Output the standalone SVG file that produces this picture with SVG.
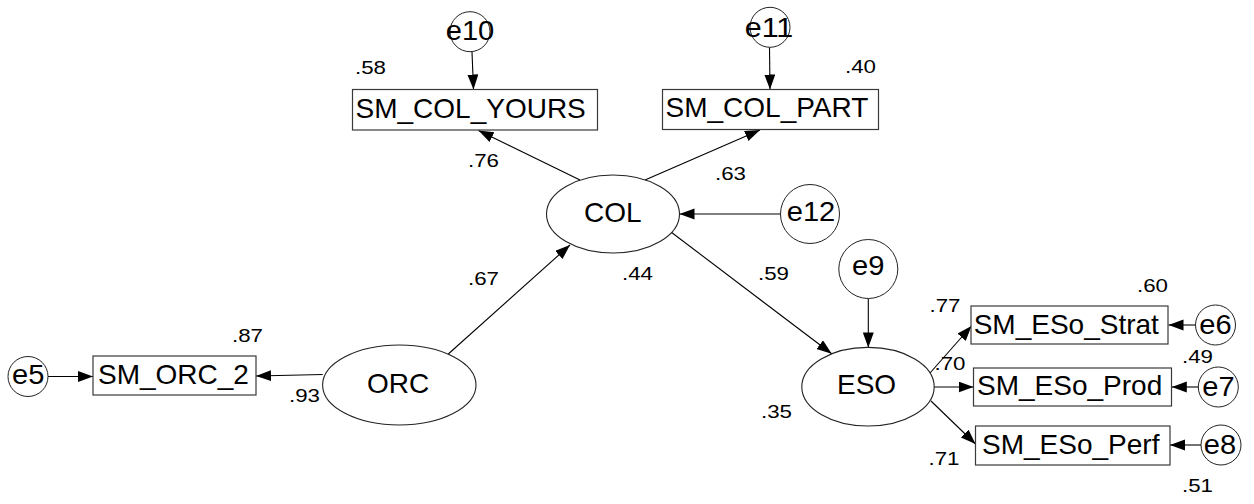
<svg xmlns="http://www.w3.org/2000/svg" width="1254" height="504" viewBox="0 0 1254 504">
  <style>
    .obs { fill: #ffffff; stroke: #3a3a3a; stroke-width: 1.2; }
    .lat { fill: #ffffff; stroke: #222222; stroke-width: 1.1; }
    .err { fill: #ffffff; stroke: #222222; stroke-width: 1; }
    .lbl { font-family: "Liberation Sans", Arial, sans-serif; font-size: 28px; fill: #000000; }
    .elb { font-family: "Liberation Sans", Arial, sans-serif; font-size: 27px; fill: #000000; text-anchor: middle; }
    .num { font-family: "Liberation Sans", Arial, sans-serif; font-size: 19px; fill: #000000; }
    .path { fill: none; stroke: #000000; stroke-width: 1.1; marker-end: url(#head); }
  </style>
  <defs>
    <marker id="head" markerUnits="userSpaceOnUse" markerWidth="16" markerHeight="12" refX="15" refY="5.5" orient="auto">
      <path d="M0,0 L15,5.5 L0,11 Z" fill="#000000"/>
    </marker>
  </defs>
  <rect width="1254" height="504" fill="#ffffff"/>

  <!-- paths and residual arrows -->
  <g id="connectors">
    <path class="path" d="M472,52 L473.5,89.5"/>
    <path class="path" d="M769.5,47.5 L770,89.5"/>
    <path class="path" d="M580,180 L478.5,130.5"/>
    <path class="path" d="M645,180 L760,130"/>
    <path class="path" d="M781,214 L679.5,214"/>
    <path class="path" d="M448.3,354 L570,245"/>
    <path class="path" d="M671,232 L831.7,353.8"/>
    <path class="path" d="M868.3,298.5 L868.3,347.4"/>
    <path class="path" d="M322.7,374.5 L256,376"/>
    <path class="path" d="M48,376.5 L93,376.5"/>
    <path class="path" d="M930,373 L971.5,326"/>
    <path class="path" d="M934,387 L973.5,387"/>
    <path class="path" d="M931,401 L975.5,444"/>
    <path class="path" d="M1195.5,325 L1168.5,325"/>
    <path class="path" d="M1198.3,387 L1171.8,387"/>
    <path class="path" d="M1201,445 L1170,445"/>
  </g>

  <!-- latent variables -->
  <g id="COL">
    <ellipse class="lat" cx="613" cy="214" rx="66.5" ry="39"/>
    <text class="lbl" x="584" y="222">COL</text>
  </g>
  <g id="ORC">
    <ellipse class="lat" cx="399.3" cy="385" rx="76.7" ry="40"/>
    <text class="lbl" x="367" y="393">ORC</text>
  </g>
  <g id="ESO">
    <ellipse class="lat" cx="868" cy="386.7" rx="66.2" ry="39.3"/>
    <text class="lbl" x="837" y="394">ESO</text>
  </g>

  <!-- observed indicators -->
  <g id="SM_COL_YOURS">
    <rect class="obs" x="352.5" y="89.5" width="245" height="40.5"/>
    <text class="lbl" x="355.5" y="117.5">SM_COL_YOURS</text>
  </g>
  <g id="SM_COL_PART">
    <rect class="obs" x="662.5" y="89.5" width="216" height="40"/>
    <text class="lbl" x="665.5" y="117">SM_COL_PART</text>
  </g>
  <g id="SM_ORC_2">
    <rect class="obs" x="93" y="356" width="163" height="39"/>
    <text class="lbl" x="98" y="383.5">SM_ORC_2</text>
  </g>
  <g id="SM_ESo_Strat">
    <rect class="obs" x="971" y="306" width="197" height="38"/>
    <text class="lbl" x="973.7" y="333.5">SM_ESo_Strat</text>
  </g>
  <g id="SM_ESo_Prod">
    <rect class="obs" x="973.5" y="368" width="198" height="38"/>
    <text class="lbl" x="977" y="395">SM_ESo_Prod</text>
  </g>
  <g id="SM_ESo_Perf">
    <rect class="obs" x="975.5" y="426" width="194.5" height="39"/>
    <text class="lbl" x="982" y="453.5">SM_ESo_Perf</text>
  </g>

  <!-- error terms -->
  <g id="e10">
    <circle class="err" cx="470" cy="31.7" r="20"/>
    <text class="elb" x="470" y="39.8" textLength="48.6" lengthAdjust="spacingAndGlyphs">e10</text>
  </g>
  <g id="e11">
    <circle class="err" cx="770" cy="27.3" r="20"/>
    <text class="elb" x="769" y="36.5" textLength="48.6" lengthAdjust="spacingAndGlyphs">e11</text>
  </g>
  <g id="e12">
    <circle class="err" cx="810" cy="214" r="29.5"/>
    <text class="elb" x="811" y="221.2" textLength="48.6" lengthAdjust="spacingAndGlyphs">e12</text>
  </g>
  <g id="e9">
    <circle class="err" cx="868.3" cy="269" r="29.5"/>
    <text class="elb" x="868.3" y="274.5" textLength="32.4" lengthAdjust="spacingAndGlyphs">e9</text>
  </g>
  <g id="e5">
    <circle class="err" cx="28" cy="376.5" r="20"/>
    <text class="elb" x="28.3" y="383.8" textLength="32.4" lengthAdjust="spacingAndGlyphs">e5</text>
  </g>
  <g id="e6">
    <circle class="err" cx="1215.5" cy="325" r="20"/>
    <text class="elb" x="1215.5" y="333.8" textLength="32.4" lengthAdjust="spacingAndGlyphs">e6</text>
  </g>
  <g id="e7">
    <circle class="err" cx="1218.3" cy="387" r="20"/>
    <text class="elb" x="1218.5" y="395.5" textLength="32.4" lengthAdjust="spacingAndGlyphs">e7</text>
  </g>
  <g id="e8">
    <circle class="err" cx="1221" cy="445" r="20"/>
    <text class="elb" x="1220" y="453.8" textLength="32.4" lengthAdjust="spacingAndGlyphs">e8</text>
  </g>

  <!-- standardized estimates and squared multiple correlations -->
  <g id="estimates">
    <text class="num" x="355" y="74" textLength="31" lengthAdjust="spacingAndGlyphs">.58</text>
    <text class="num" x="845" y="73.3" textLength="31" lengthAdjust="spacingAndGlyphs">.40</text>
    <text class="num" x="468" y="167" textLength="31" lengthAdjust="spacingAndGlyphs">.76</text>
    <text class="num" x="715" y="180" textLength="31" lengthAdjust="spacingAndGlyphs">.63</text>
    <text class="num" x="622" y="280" textLength="31" lengthAdjust="spacingAndGlyphs">.44</text>
    <text class="num" x="758" y="280" textLength="31" lengthAdjust="spacingAndGlyphs">.59</text>
    <text class="num" x="468" y="285" textLength="31" lengthAdjust="spacingAndGlyphs">.67</text>
    <text class="num" x="232" y="342" textLength="31" lengthAdjust="spacingAndGlyphs">.87</text>
    <text class="num" x="289" y="402" textLength="31" lengthAdjust="spacingAndGlyphs">.93</text>
    <text class="num" x="761" y="418" textLength="31" lengthAdjust="spacingAndGlyphs">.35</text>
    <text class="num" x="929.5" y="311.7" textLength="31" lengthAdjust="spacingAndGlyphs">.77</text>
    <text class="num" x="934.5" y="370" textLength="31" lengthAdjust="spacingAndGlyphs">.70</text>
    <text class="num" x="928.5" y="465" textLength="31" lengthAdjust="spacingAndGlyphs">.71</text>
    <text class="num" x="1137" y="291.7" textLength="31" lengthAdjust="spacingAndGlyphs">.60</text>
    <text class="num" x="1182" y="363.3" textLength="31" lengthAdjust="spacingAndGlyphs">.49</text>
    <text class="num" x="1182" y="491.7" textLength="31" lengthAdjust="spacingAndGlyphs">.51</text>
  </g>
</svg>
